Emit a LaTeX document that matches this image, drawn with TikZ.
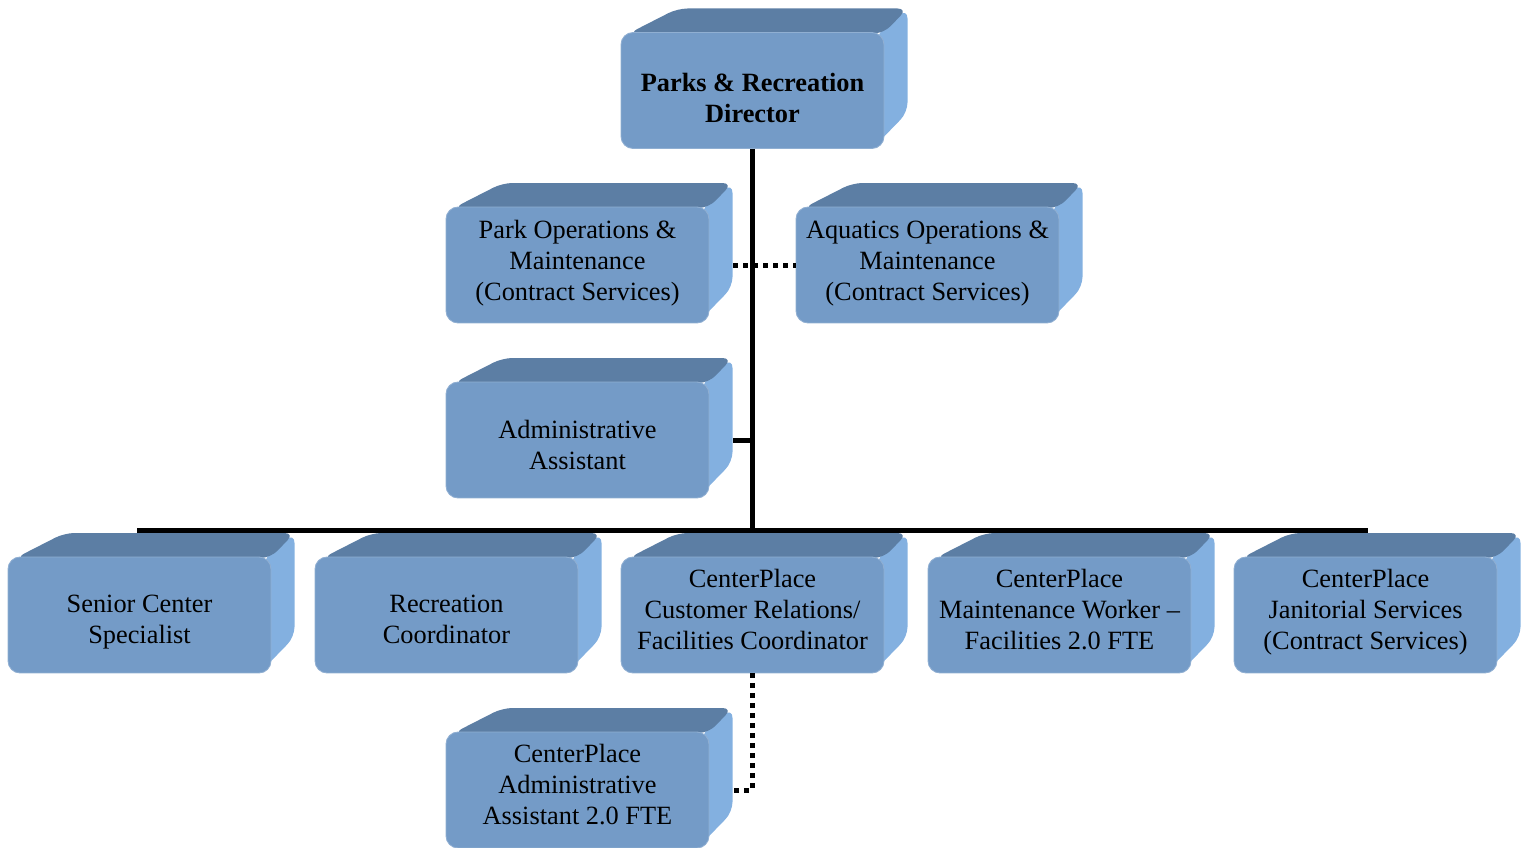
\documentclass[tikz,border=0pt]{standalone}
\usepackage{fontspec}
\setmainfont{Liberation Serif}
\definecolor{boxfront}{RGB}{116,155,199}
\definecolor{boxtop}{RGB}{92,126,164}
\definecolor{boxside}{RGB}{131,176,224}
\begin{document}
\begin{tikzpicture}[x=0.02cm,y=-0.02cm,
  face/.style={fill=boxfront,draw=boxfront!80!white,line width=0.5pt,rounded corners=0.24cm,
    minimum width=5.26cm,minimum height=2.32cm,inner sep=0pt},
  txt/.style={inner sep=0pt,align=center,font=\fontsize{15}{17.6}\selectfont},
  link/.style={line width=0.1cm},
  dots/.style={line width=0.1cm,dash pattern=on 0.1cm off 0.1cm}]
  \useasboundingbox (0,0) rectangle (1531,848);
  \def\cube#1#2#3#4#5{
    \fill[boxside,rounded corners=0.2cm] (#2+125,#3-58) -- (#2+155,#3-82) -- (#2+155,#3+22) -- (#2+120,#3+58) -- cycle;
    \fill[boxtop,rounded corners=0.2cm] (#2-124,#3-57) -- (#2-75,#3-82) -- (#2+155,#3-82) -- (#2+131,#3-57) -- cycle;
    \node[face] (#1) at (#2,#3) {};
    \node[txt] (#1-txt) at (#2,#3+#4) {\strut#5\strut};
  }

  \cube{dir}{752.5}{90.5}{10}{\textbf{Parks \& Recreation}\\\textbf{Director}}
  \cube{parkops}{577.5}{265}{-2}{Park Operations \&\\Maintenance\\(Contract Services)}
  \cube{aquaops}{927.5}{265}{-2}{Aquatics Operations \&\\Maintenance\\(Contract Services)}
  \cube{admin}{577.5}{440}{7.5}{Administrative\\Assistant}
  \foreach \n/\x/\d/\t in {senior/139.5/7/{Senior Center\\Specialist},
      rec/446.5/7/{Recreation\\Coordinator},
      cpcr/752.5/-2.5/{CenterPlace\\Customer Relations/\\Facilities Coordinator},
      cpmw/1059.5/-2.5/{CenterPlace\\Maintenance Worker --\\Facilities 2.0 FTE},
      cpjan/1365.5/-2.5/{CenterPlace\\Janitorial Services\\(Contract Services)}} {
    \cube{\n}{\x}{615}{\d}{\t}
  }
  \cube{cpadmin}{577.5}{790}{-3}{CenterPlace\\Administrative\\Assistant 2.0 FTE}

  \coordinate (bus) at (752.5,530);
  \draw[link] (dir.south) -- (dir.south |- bus);
  \draw[link] ([xshift=-0.05cm]senior.north |- bus) -- ([xshift=0.05cm]cpjan.north |- bus);
  \draw[dots] ([xshift=0.48cm]parkops.east) -- (aquaops.west);
  \draw[link] ([xshift=0.48cm]admin.east) -- (admin.east -| dir.south);
  \draw[dots] (cpcr.south) |- ([xshift=0.48cm]cpadmin.east);
\end{tikzpicture}
\end{document}
